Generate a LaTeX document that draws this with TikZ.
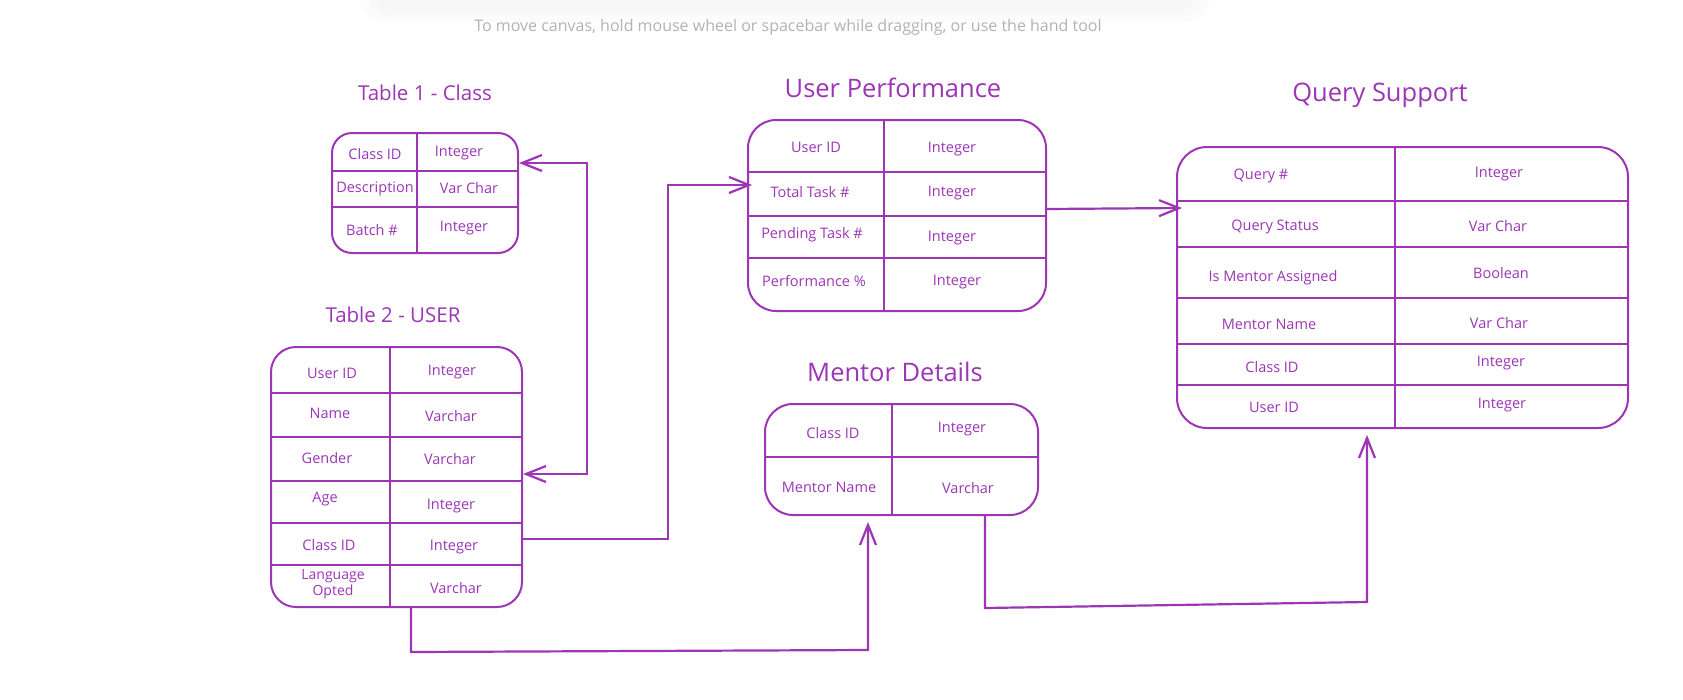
\documentclass[tikz,border=0pt]{standalone}
\usepackage{fontspec}
\setmainfont{Open Sans}
\usetikzlibrary{arrows.meta}
\definecolor{grape}{RGB}{156,54,181}
\definecolor{hintgray}{RGB}{178,178,178}
\begin{document}
\begin{tikzpicture}[x=1pt,y=-1pt,
  tbl/.style={draw=grape,line width=2pt,inner sep=0pt,rectangle},
  gridline/.style={draw=grape,line width=2pt},
  cell/.style={text=grape,inner sep=0pt,font=\fontsize{14.5}{16}\selectfont,align=center},
  bigtitle/.style={text=grape,inner sep=0pt,font=\fontsize{25.5}{29}\selectfont},
  smalltitle/.style={text=grape,inner sep=0pt,font=\fontsize{20.5}{24}\selectfont},
  conn/.style={draw=grape,line width=2.2pt},
  barb/.tip={Straight Barb[length=20pt,width=16pt]}]
\fill[white] (0,0) rectangle (1683,699);
\useasboundingbox (0,0) rectangle (1683,699);
% faint toolbar shadow
\fill[black,opacity=0.012,rounded corners=24pt] (360,-40) rectangle (1210,22);
\fill[black,opacity=0.012,rounded corners=20pt] (368,-40) rectangle (1202,16);
\fill[black,opacity=0.012,rounded corners=16pt] (376,-40) rectangle (1194,10);
\node[text=hintgray,inner sep=0pt,font=\fontsize{16}{19}\selectfont] (hint) at (788,27) {To move canvas, hold mouse wheel or spacebar while dragging, or use the hand tool};

% ---------- Table 1 ----------
\node[smalltitle] (t1title) at (425,93) {Table 1 - Class};
\node[tbl,rounded corners=20pt,minimum width=186pt,minimum height=120pt] (t1) at (425,193) {};
\draw[gridline] (t1.west |- 0,171) -- (t1.east |- 0,171);
\draw[gridline] (t1.west |- 0,207) -- (t1.east |- 0,207);
\draw[gridline] (t1.north -| 417,0) -- (t1.south -| 417,0);
\node[cell] (t1a) at (375,154) {Class ID};
\node[cell] (t1b) at (459,153) {Integer};
\node[cell] (t1c) at (375,189) {Description};
\node[cell] (t1d) at (469,188) {Var Char};
\node[cell] (t1e) at (372,230) {Batch \#};
\node[cell] (t1f) at (464,228) {Integer};

% ---------- Table 2 ----------
\node[smalltitle] (t2title) at (393,315) {Table 2 - USER};
\node[tbl,rounded corners=25pt,minimum width=251pt,minimum height=260pt] (t2) at (396.5,477) {};
\foreach \yy in {393,437,481,523,565}
  \draw[gridline] (t2.west |- 0,\yy) -- (t2.east |- 0,\yy);
\draw[gridline] (t2.north -| 390,0) -- (t2.south -| 390,0);
\node[cell] (t2a) at (332,373) {User ID};
\node[cell] (t2b) at (452,372) {Integer};
\node[cell] (t2c) at (330,413) {Name};
\node[cell] (t2d) at (451,416) {Varchar};
\node[cell] (t2e) at (327,458) {Gender};
\node[cell] (t2f) at (450,459) {Varchar};
\node[cell] (t2g) at (325,499) {Age};
\node[cell] (t2h) at (451,506) {Integer};
\node[cell] (t2i) at (329,545) {Class ID};
\node[cell] (t2j) at (454,547) {Integer};
\node[cell,font=\fontsize{14}{16}\selectfont] (t2k) at (333,584) {Language\\Opted};
\node[cell] (t2l) at (456,588) {Varchar};

% ---------- User Performance ----------
\node[bigtitle] (uptitle) at (893,88) {User Performance};
\node[tbl,rounded corners=28pt,minimum width=298pt,minimum height=191pt] (up) at (897,215.5) {};
\foreach \yy in {172,216,258}
  \draw[gridline] (up.west |- 0,\yy) -- (up.east |- 0,\yy);
\draw[gridline] (up.north -| 884,0) -- (up.south -| 884,0);
\node[cell] (upa) at (816,147) {User ID};
\node[cell] (upb) at (952,149) {Integer};
\node[cell] (upc) at (810,192) {Total Task \#};
\node[cell] (upd) at (952,193) {Integer};
\node[cell] (upe) at (812,235) {Pending Task \#};
\node[cell] (upf) at (952,238) {Integer};
\node[cell] (upg) at (814,281) {Performance \%};
\node[cell] (uph) at (957,282) {Integer};

% ---------- Mentor Details ----------
\node[bigtitle] (mdtitle) at (895,372) {Mentor Details};
\node[tbl,rounded corners=28pt,minimum width=273pt,minimum height=111pt] (md) at (901.5,459.5) {};
\draw[gridline] (md.west |- 0,457) -- (md.east |- 0,457);
\draw[gridline] (md.north -| 892,0) -- (md.south -| 892,0);
\node[cell] (mda) at (833,433) {Class ID};
\node[cell] (mdb) at (962,429) {Integer};
\node[cell] (mdc) at (829,487) {Mentor Name};
\node[cell] (mdd) at (968,488) {Varchar};

% ---------- Query Support ----------
\node[bigtitle] (qstitle) at (1380,95) {Query Support};
\node[tbl,rounded corners=30pt,minimum width=451pt,minimum height=281pt] (qs) at (1402.5,287.5) {};
\foreach \yy in {201,247,298,344,385}
  \draw[gridline] (qs.west |- 0,\yy) -- (qs.east |- 0,\yy);
\draw[gridline] (qs.north -| 1395,0) -- (qs.south -| 1395,0);
\node[cell] (qsa) at (1261,176) {Query \#};
\node[cell] (qsb) at (1499,174) {Integer};
\node[cell] (qsc) at (1275,227) {Query Status};
\node[cell] (qsd) at (1498,226) {Var Char};
\node[cell] (qse) at (1273,278) {Is Mentor Assigned};
\node[cell] (qsf) at (1501,273) {Boolean};
\node[cell] (qsg) at (1269,324) {Mentor Name};
\node[cell] (qsh) at (1499,323) {Var Char};
\node[cell] (qsi) at (1272,367) {Class ID};
\node[cell] (qsj) at (1501,363) {Integer};
\node[cell] (qsk) at (1274,407) {User ID};
\node[cell] (qsl) at (1502,405) {Integer};

% ---------- connectors ----------
\coordinate (c1) at (587,163);
\coordinate (c2) at (587,474);
\draw[conn,barb-barb] (t1.east |- c1) -- (c1) -- (c2) -- (t2.east |- c2);

\coordinate (c3) at (668,539);
\coordinate (c4) at (668,185);
\draw[conn,-barb] (t2.east |- c3) -- (c3) -- (c4) -- ([xshift=5pt]up.west |- c4);

\coordinate (c5) at (1046,209);
\coordinate (c6) at (1182,208);
\draw[conn,-barb] (up.east |- c5) -- (c6);

\coordinate (c7) at (411,652);
\coordinate (c8) at (868,650);
\draw[conn,-barb,shorten >=6pt] (t2.south -| c7) -- (c7) -- (c8) -- (md.south -| c8);

\coordinate (c9) at (985,608);
\coordinate (c10) at (1367,602);
\draw[conn,-barb,shorten >=6pt] (md.south -| c9) -- (c9) -- (c10) -- (qs.south -| c10);
\end{tikzpicture}
\end{document}
